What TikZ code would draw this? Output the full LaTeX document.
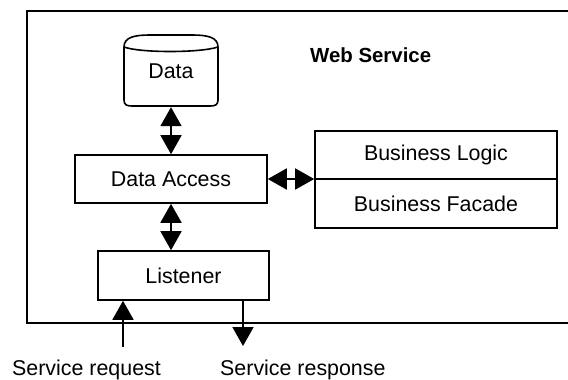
\documentclass[tikz,border=0pt]{standalone}
\usepackage{fontspec}
\setmainfont{Liberation Sans}
\usetikzlibrary{arrows.meta}
\begin{document}
\begin{tikzpicture}[x=1pt,y=-1pt,
  font=\fontsize{21.4}{24}\selectfont,
  box/.style={draw, line width=1.6pt, inner sep=0pt},
  tip/.tip={Triangle[length=19pt,width=21pt]},
  conn/.style={line width=1.8pt, -tip},
  both/.style={line width=1.8pt, tip-tip},
  lbl/.style={inner sep=0pt}]
\useasboundingbox (0,0) rectangle (568,380);
% outer frame (open on the right)
\draw[line width=1.8pt] (568,11) -- (27,11) -- (27,323) -- (568,323);
% Data cylinder
\node[minimum width=94pt, minimum height=72pt, inner sep=0pt] (data) at (171,71) {Data};
\draw[line width=1.6pt]
  (124,47) .. controls (124,37) and (135,35) .. (150,35) -- (192,35)
  .. controls (207,35) and (218,37) .. (218,47)
  -- (218,100) .. controls (218,105) and (215,106) .. (210,106)
  -- (132,106) .. controls (127,106) and (124,105) .. (124,100) -- cycle;
\draw[line width=1.6pt] (124,47) .. controls (140,53) and (200,53) .. (218,47);
% boxes
\node[box, minimum width=192pt, minimum height=48pt] (dacc) at (171,179) {Data Access};
\node[box, minimum width=171pt, minimum height=49pt] (lst) at (183.5,275.5) {Listener};
\node[box, minimum width=242pt, minimum height=48pt] (logic) at (436,155) {Business Logic};
\node[box, minimum width=242pt, minimum height=49pt] (facade) at (436,203.5) {Business Facade};
\node[lbl, anchor=base west, font=\fontsize{20.4}{24}\selectfont\bfseries] (ws) at (310,62) {Web Service};
% connectors
\draw[both] (data.south) -- (dacc.north);
\draw[both] (dacc.east) -- (dacc.east -| logic.west);
\draw[both] (dacc.south) -- (dacc.south |- lst.north);
\coordinate (req) at (123,347);
\coordinate (resp) at (243,346);
\draw[conn] (req) -- (req |- lst.south);
\draw[conn] (resp |- lst.south) -- (resp);
% labels
\node[lbl, anchor=base west] (reqlbl) at (12,375) {Service request};
\node[lbl, anchor=base west] (resplbl) at (220,375) {Service response};
\end{tikzpicture}
\end{document}
